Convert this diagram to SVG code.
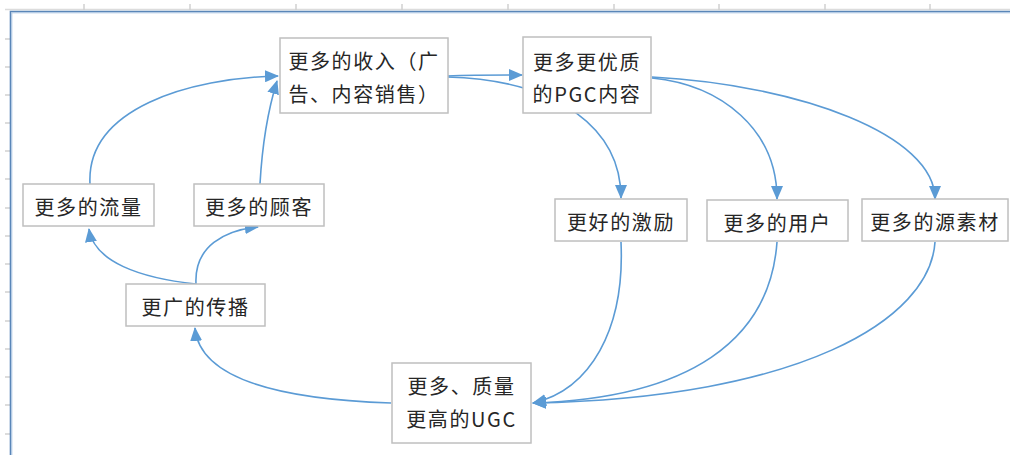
<svg xmlns="http://www.w3.org/2000/svg" width="1010" height="455" viewBox="0 0 1010 455">
<style>
.box{fill:#ffffff;stroke:#bfbfbf;stroke-width:1.5}
.t{font-family:"Noto Sans CJK SC","Microsoft YaHei",sans-serif;font-size:20px;letter-spacing:1.6px;fill:#262626;text-anchor:middle;dominant-baseline:central}
.c{fill:none;stroke:#5b9bd5;stroke-width:1.6;marker-end:url(#ah)}
.tick{stroke:#d0d0d0;stroke-width:1.5}
</style>
<defs>
<marker id="ah" markerUnits="userSpaceOnUse" markerWidth="14" markerHeight="12" viewBox="0 0 14 12" refX="13" refY="6" orient="auto">
<path d="M0,0 L14,6 L0,12 Z" fill="#5b9bd5"/>
</marker>
</defs>
<rect x="0" y="0" width="1010" height="455" fill="#ffffff"/>
<g id="sheet">
<line x1="5" y1="9.5" x2="1010" y2="9.5" stroke="#dcdcdc" stroke-width="1.5"/>
<g class="tick">
<line x1="84" y1="4" x2="84" y2="10"/><line x1="190" y1="4" x2="190" y2="10"/><line x1="296" y1="4" x2="296" y2="10"/><line x1="402" y1="4" x2="402" y2="10"/><line x1="508" y1="4" x2="508" y2="10"/><line x1="614" y1="4" x2="614" y2="10"/><line x1="719" y1="4" x2="719" y2="10"/><line x1="825" y1="4" x2="825" y2="10"/><line x1="930" y1="4" x2="930" y2="10"/>
<line x1="5" y1="39" x2="10" y2="39"/><line x1="5" y1="67" x2="10" y2="67"/><line x1="5" y1="95" x2="10" y2="95"/><line x1="5" y1="123" x2="10" y2="123"/><line x1="5" y1="151" x2="10" y2="151"/><line x1="5" y1="179" x2="10" y2="179"/><line x1="5" y1="208" x2="10" y2="208"/><line x1="5" y1="236" x2="10" y2="236"/><line x1="5" y1="264" x2="10" y2="264"/><line x1="5" y1="292" x2="10" y2="292"/><line x1="5" y1="321" x2="10" y2="321"/><line x1="5" y1="349" x2="10" y2="349"/><line x1="5" y1="377" x2="10" y2="377"/><line x1="5" y1="405" x2="10" y2="405"/><line x1="5" y1="434" x2="10" y2="434"/>
</g>
<path d="M10.5,455 L10.5,11.5 L1010,11.5" fill="none" stroke="#5a86b8" stroke-width="1.6"/>
<path d="M11.8,455 L11.8,12.8 L1010,12.8" fill="none" stroke="#a9c4e2" stroke-width="1"/>
</g>
<g id="connectors">
<path class="c" d="M90,184 C86,108 190,78 278,76"/>
<path class="c" d="M260,184 C262,148 268,110 277,81"/>
<path class="c" d="M447,76 C475,75 500,75 522,75"/>
<path class="c" d="M447,77 C560,80 621,130 621,198"/>
<path class="c" d="M652,78 C722,85 777,130 777,199"/>
<path class="c" d="M652,77 C800,85 935,135 935,199"/>
<path class="c" d="M621,242 C625,330 590,390 533,403"/>
<path class="c" d="M777,242 C770,340 690,398 533,403"/>
<path class="c" d="M935,242 C930,320 800,398 533,403"/>
<path class="c" d="M391,403 C300,400 200,385 195,328"/>
<path class="c" d="M196,284 C140,278 94,262 89,229"/>
<path class="c" d="M196,284 C194,246 225,230 258,227"/>
</g>
<g id="n-income"><rect class="box" x="280" y="38" width="168" height="75"/><text class="t" x="364" y="60">更多的收入（广</text><text class="t" x="364" y="93">告、内容销售）</text></g>
<g id="n-pgc"><rect class="box" x="523" y="37" width="128" height="76"/><text class="t" x="587" y="61">更多更优质</text><text class="t" x="587" y="93">的PGC内容</text></g>
<g id="n-traffic"><rect class="box" x="23" y="184" width="131" height="42"/><text class="t" x="88.5" y="206">更多的流量</text></g>
<g id="n-customers"><rect class="box" x="194" y="184" width="130" height="42"/><text class="t" x="259" y="206">更多的顾客</text></g>
<g id="n-spread"><rect class="box" x="126" y="284" width="139" height="42"/><text class="t" x="195.5" y="306">更广的传播</text></g>
<g id="n-incentive"><rect class="box" x="555" y="199" width="132" height="42"/><text class="t" x="621" y="221">更好的激励</text></g>
<g id="n-users"><rect class="box" x="707" y="200" width="141" height="41"/><text class="t" x="777.5" y="222">更多的用户</text></g>
<g id="n-materials"><rect class="box" x="862" y="199" width="146" height="42"/><text class="t" x="935" y="221">更多的源素材</text></g>
<g id="n-ugc"><rect class="box" x="392" y="363" width="139" height="80"/><text class="t" x="461.5" y="385">更多、质量</text><text class="t" x="461.5" y="418">更高的UGC</text></g>
</svg>
